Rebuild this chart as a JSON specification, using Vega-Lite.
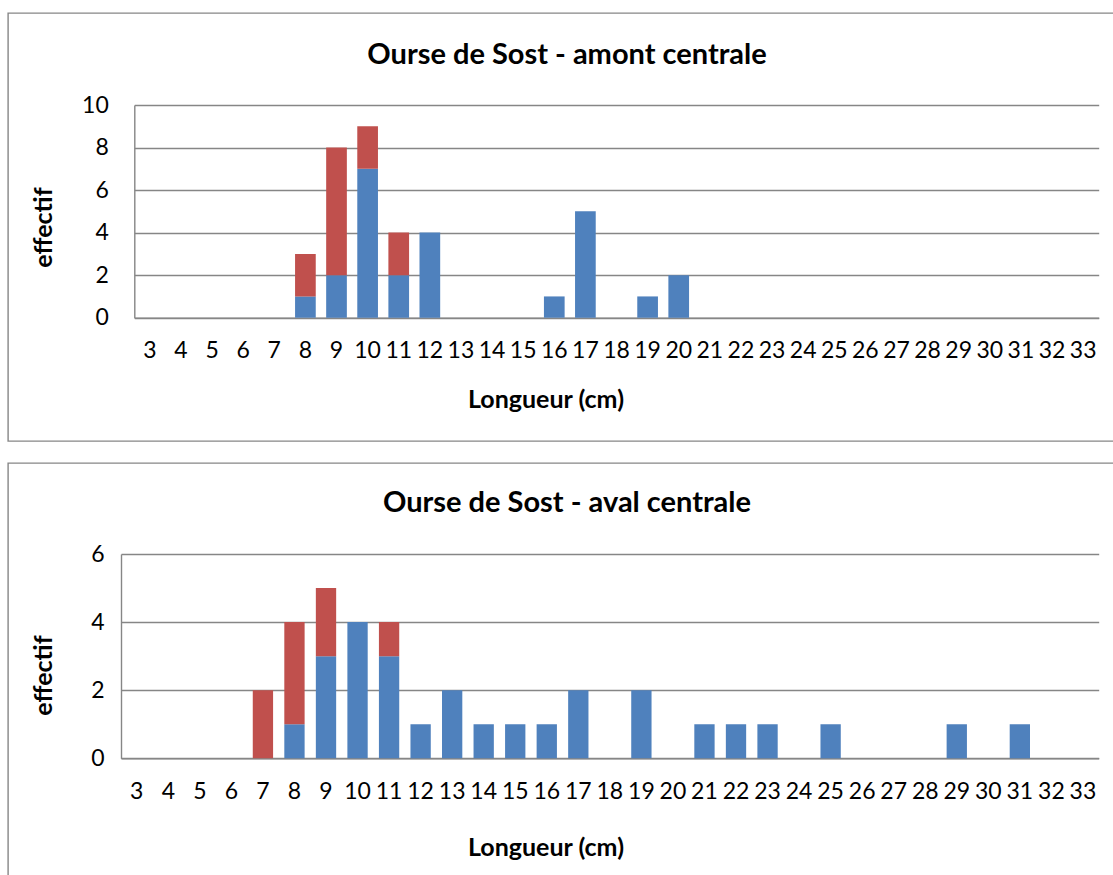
{
  "$schema": "https://vega.github.io/schema/vega-lite/v6.json",
  "padding": {"left": 7, "top": 12, "right": 0, "bottom": 0},
  "spacing": 20,
  "background": "white",
  "config": {
    "font": "Lato",
    "view": {"stroke": null},
    "axis": {
      "labelFont": "Lato", "titleFont": "Lato", "labelColor": "#000000", "titleColor": "#000000",
      "labelFontSize": 23, "titleFontSize": 25, "titleFontWeight": "bold",
      "ticks": false, "tickSize": 0, "domainColor": "#868686", "gridColor": "#868686",
      "domainWidth": 1.4, "gridWidth": 1.4, "titleBaseline": "alphabetic"
    },
    "title": {"font": "Lato", "fontSize": 29, "fontWeight": "bold", "color": "#000000"}
  },
  "datasets": {
    "amont": [
      {"longueur": 8, "groupe": "Série1", "effectif": 1},
      {"longueur": 8, "groupe": "Série2", "effectif": 2},
      {"longueur": 9, "groupe": "Série1", "effectif": 2},
      {"longueur": 9, "groupe": "Série2", "effectif": 6},
      {"longueur": 10, "groupe": "Série1", "effectif": 7},
      {"longueur": 10, "groupe": "Série2", "effectif": 2},
      {"longueur": 11, "groupe": "Série1", "effectif": 2},
      {"longueur": 11, "groupe": "Série2", "effectif": 2},
      {"longueur": 12, "groupe": "Série1", "effectif": 4},
      {"longueur": 16, "groupe": "Série1", "effectif": 1},
      {"longueur": 17, "groupe": "Série1", "effectif": 5},
      {"longueur": 19, "groupe": "Série1", "effectif": 1},
      {"longueur": 20, "groupe": "Série1", "effectif": 2}
    ],
    "aval": [
      {"longueur": 7, "groupe": "Série2", "effectif": 2},
      {"longueur": 8, "groupe": "Série1", "effectif": 1},
      {"longueur": 8, "groupe": "Série2", "effectif": 3},
      {"longueur": 9, "groupe": "Série1", "effectif": 3},
      {"longueur": 9, "groupe": "Série2", "effectif": 2},
      {"longueur": 10, "groupe": "Série1", "effectif": 4},
      {"longueur": 11, "groupe": "Série1", "effectif": 3},
      {"longueur": 11, "groupe": "Série2", "effectif": 1},
      {"longueur": 12, "groupe": "Série1", "effectif": 1},
      {"longueur": 13, "groupe": "Série1", "effectif": 2},
      {"longueur": 14, "groupe": "Série1", "effectif": 1},
      {"longueur": 15, "groupe": "Série1", "effectif": 1},
      {"longueur": 16, "groupe": "Série1", "effectif": 1},
      {"longueur": 17, "groupe": "Série1", "effectif": 2},
      {"longueur": 19, "groupe": "Série1", "effectif": 2},
      {"longueur": 21, "groupe": "Série1", "effectif": 1},
      {"longueur": 22, "groupe": "Série1", "effectif": 1},
      {"longueur": 23, "groupe": "Série1", "effectif": 1},
      {"longueur": 25, "groupe": "Série1", "effectif": 1},
      {"longueur": 29, "groupe": "Série1", "effectif": 1},
      {"longueur": 31, "groupe": "Série1", "effectif": 1}
    ]
  },
  "vconcat": [
    {
      "width": 1105,
      "height": 428,
      "view": {"stroke": "#868686", "strokeWidth": 1.4, "strokeDash": [1105, 428, 1533]},
      "title": {"text": "Ourse de Sost - amont centrale", "anchor": "middle", "frame": "group", "offset": -80, "dx": 6.5, "baseline": "alphabetic"},
      "data": {"name": "amont"},
      "mark": {"type": "bar"},
      "encoding": {
        "x": {
          "field": "longueur", "type": "ordinal",
          "scale": {"domain": [3,4,5,6,7,8,9,10,11,12,13,14,15,16,17,18,19,20,21,22,23,24,25,26,27,28,29,30,31,32,33], "range": [126.3, 1090.7], "paddingInner": 0.335, "paddingOuter": 0.1675},
          "axis": {"title": "Longueur (cm)", "labelAngle": 0, "offset": -123.3, "labelPadding": 22, "titleX": 537.5, "titleY": 90}
        },
        "y": {
          "field": "effectif", "type": "quantitative", "stack": "zero",
          "scale": {"domain": [0, 10], "range": [304.7, 92], "nice": false, "zero": false},
          "axis": {"title": "effectif", "values": [0, 2, 4, 6, 8, 10], "grid": true, "offset": -126.3, "labelPadding": 26, "titleX": -83.3, "titleY": 214}
        },
        "color": {"field": "groupe", "type": "nominal", "scale": {"domain": ["Série1", "Série2"], "range": ["#4F81BD", "#C0504D"]}, "legend": null},
        "order": {"field": "groupe", "sort": "ascending"}
      }
    },
    {
      "width": 1105,
      "height": 414,
      "view": {"stroke": "#868686", "strokeWidth": 1.4, "strokeDash": [1105, 1519, 414]},
      "title": {"text": "Ourse de Sost - aval centrale", "anchor": "middle", "frame": "group", "offset": -78, "dx": 6.5, "baseline": "alphabetic"},
      "data": {"name": "aval"},
      "mark": {"type": "bar"},
      "encoding": {
        "x": {
          "field": "longueur", "type": "ordinal",
          "scale": {"domain": [3,4,5,6,7,8,9,10,11,12,13,14,15,16,17,18,19,20,21,22,23,24,25,26,27,28,29,30,31,32,33], "range": [113, 1090.7], "paddingInner": 0.356, "paddingOuter": 0.178},
          "axis": {"title": "Longueur (cm)", "labelAngle": 0, "offset": -118.7, "labelPadding": 22, "titleX": 537.5, "titleY": 97}
        },
        "y": {
          "field": "effectif", "type": "quantitative", "stack": "zero",
          "scale": {"domain": [0, 6], "range": [295.3, 91], "nice": false, "zero": false},
          "axis": {"title": "effectif", "values": [0, 2, 4, 6], "grid": true, "offset": -113, "labelPadding": 17, "titleX": -70, "titleY": 212}
        },
        "color": {"field": "groupe", "type": "nominal", "scale": {"domain": ["Série1", "Série2"], "range": ["#4F81BD", "#C0504D"]}, "legend": null},
        "order": {"field": "groupe", "sort": "ascending"}
      }
    }
  ]
}
